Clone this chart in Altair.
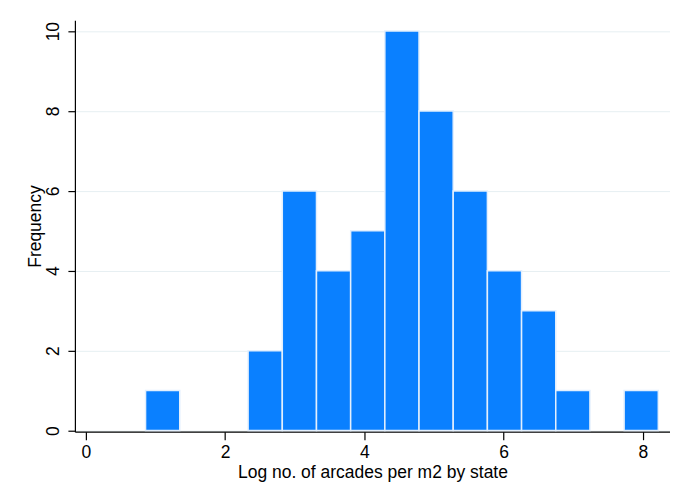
import altair as alt
import pandas as pd

bin_starts = [0.857, 1.348, 1.839, 2.330, 2.821, 3.312, 3.803, 4.294, 4.785, 5.276, 5.767, 6.258, 6.749, 7.240, 7.731]
bin_ends = [1.348, 1.839, 2.330, 2.821, 3.312, 3.803, 4.294, 4.785, 5.276, 5.767, 6.258, 6.749, 7.240, 7.731, 8.222]
counts = [1, 0, 0, 2, 6, 4, 5, 10, 8, 6, 4, 3, 1, 0, 1]

df = pd.DataFrame({"start": bin_starts, "end": bin_ends, "count": counts})
df = df[df["count"] > 0]

font = "Liberation Sans"
fs = 17.5

bars = alt.Chart(df).mark_bar(
    color="#0A80FF", stroke="#E3EFFD", strokeWidth=1.5
).encode(
    x=alt.X("start:Q",
            scale=alt.Scale(domain=[-0.158, 8.39], nice=False, zero=False),
            axis=alt.Axis(values=[0, 2, 4, 6, 8], title="Log no. of arcades per m2 by state",
                          grid=False, tickSize=8, labelPadding=4, titlePadding=2,
                          labelFontSize=fs, titleFontSize=fs, labelFont=font, titleFont=font,
                          titleFontWeight="normal", labelColor="black", titleColor="black",
                          domainColor="black", tickColor="black", domainWidth=1.2, tickWidth=1.2)),
    x2="end:Q",
    y=alt.Y("count:Q",
            scale=alt.Scale(domain=[-0.03, 10.27], nice=False, zero=False),
            axis=alt.Axis(values=[0, 2, 4, 6, 8, 10], title="Frequency",
                          grid=True, gridColor="#E6EFF2", gridWidth=1,
                          tickSize=7, labelAngle=270, labelAlign="center", labelBaseline="bottom",
                          labelPadding=5, titlePadding=0,
                          labelFontSize=fs, titleFontSize=fs, labelFont=font, titleFont=font,
                          titleFontWeight="normal", labelColor="black", titleColor="black",
                          domainColor="black", tickColor="black", domainWidth=1.2, tickWidth=1.2)),
    y2=alt.datum(0),
)

chart = bars.properties(
    width=596, height=412,
    autosize=alt.AutoSizeParams(type="none"),
    padding={"left": 67, "top": 12, "right": 0, "bottom": 50},
    background="white",
).configure_view(stroke=None)

chart.save("out.html", embed_options={"renderer": "svg", "actions": False})
